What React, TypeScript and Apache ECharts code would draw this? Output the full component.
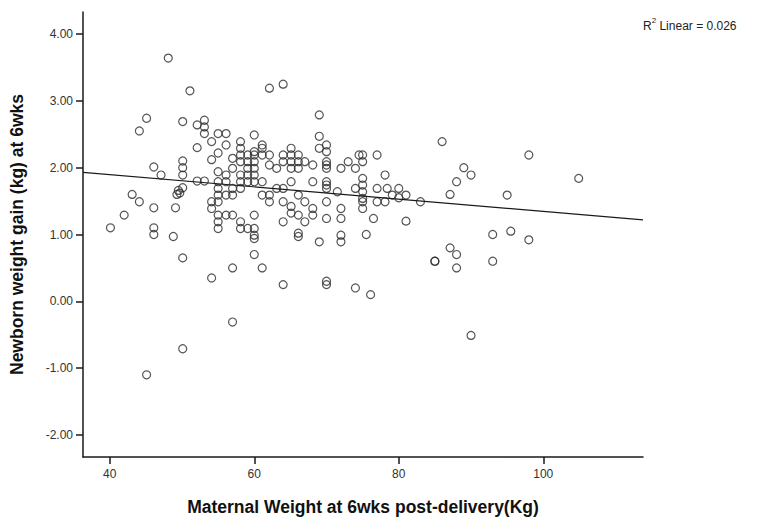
import React, { useEffect, useRef } from "react";
import * as echarts from "echarts";

// Maternal weight (kg) of each column of points, and the newborn gains (kg) found at that weight
const columnWeights = [
  40.1, 42.0, 43.1, 44.1, 45.1, 46.1, 47.1, 48.1, 48.8, 49.1, 49.3, 49.5, 49.7, 50.1,
  51.1, 52.1, 53.1, 54.1, 55.0, 56.1, 57.0, 58.1, 59.1, 60.0, 61.1, 62.1, 63.1, 64.0,
  65.1, 66.1, 67.0, 68.1, 69.0, 70.0, 71.5, 72.0, 73.0, 74.0, 74.5, 75.0, 75.5, 76.1,
  76.5, 77.0, 78.1, 78.4, 79.1, 80.0, 81.0, 83.0, 85.0, 86.0, 87.1, 88.0, 89.0, 90.0,
  93.0, 95.0, 95.5, 98.0, 104.9,
];
const columnGains = [
  [1.10], [1.29], [1.60], [2.55, 1.49], [2.74, -1.10], [2.01, 1.40, 1.10, 1.00], [1.89],
  [3.64], [0.97], [1.40], [1.60], [1.66], [1.62],
  [2.69, 2.10, 2.00, 1.89, 1.70, 0.65, -0.71],
  [3.15],
  [2.64, 2.30, 1.80],
  [2.71, 2.61, 2.51, 1.80],
  [2.39, 2.12, 1.49, 1.39, 0.35],
  [2.51, 2.22, 1.94, 1.79, 1.69, 1.59, 1.49, 1.29, 1.19, 1.09],
  [2.51, 2.34, 1.89, 1.79, 1.59, 1.29],
  [2.14, 1.99, 1.69, 1.59, 1.29, 0.50, -0.31],
  [2.39, 2.29, 2.19, 2.09, 1.89, 1.79, 1.69, 1.19, 1.09],
  [2.19, 2.09, 1.99, 1.89, 1.79, 1.09],
  [2.49, 2.24, 2.19, 2.09, 1.99, 1.89, 1.79, 1.29, 1.09, 0.99, 0.94, 0.70],
  [2.34, 2.29, 2.19, 1.79, 1.59, 0.50],
  [3.19, 2.19, 2.04, 1.59, 1.49],
  [1.99, 1.69],
  [3.25, 2.19, 2.09, 1.69, 1.49, 1.19, 0.25],
  [2.29, 2.19, 2.09, 1.99, 1.79, 1.42, 1.32],
  [2.19, 2.09, 1.99, 1.59, 1.29, 1.02, 0.97],
  [2.09, 1.49, 1.19],
  [2.04, 1.79, 1.39, 1.29],
  [2.79, 2.47, 2.29, 0.89],
  [2.34, 2.24, 2.09, 2.04, 1.99, 1.79, 1.74, 1.69, 1.49, 1.24, 0.30, 0.25],
  [1.64],
  [1.99, 1.39, 1.24, 0.99, 0.89],
  [2.09],
  [1.99, 1.69, 0.20],
  [2.19],
  [2.19, 2.09, 1.84, 1.74, 1.64, 1.54, 1.49, 1.39],
  [1.00],
  [0.10],
  [1.24],
  [2.19, 1.69, 1.49],
  [1.89, 1.49],
  [1.69],
  [1.59],
  [1.69, 1.55],
  [1.59, 1.20],
  [1.49],
  [0.60, 0.60],
  [2.39],
  [1.60, 0.80],
  [1.79, 0.70, 0.50],
  [2.00],
  [1.89, -0.51],
  [1.00, 0.60],
  [1.59],
  [1.05],
  [2.19, 0.92],
  [1.84],
];

// Linear fit line (endpoints at the edges of the axis range)
const fitWeights = [36.3, 113.8];
const fitGains = [1.93, 1.22];

const xTicks = [40, 60, 80, 100];
const yTicks = [-2, -1, 0, 1, 2, 3, 4];
const xRange = [36.3, 113.8];
const yRange = [-2.33, 4.33];

const xTitle = "Maternal Weight at 6wks post-delivery(Kg)";
const yTitle = "Newborn weight gain (kg) at 6wks";
const fitNote = "0.026";

export default function App() {
  const ref = useRef<HTMLDivElement>(null);

  useEffect(() => {
    if (!ref.current) return;
    const chart = echarts.init(ref.current, null, { renderer: "svg" });
    const points: number[][] = [];
    columnWeights.forEach((w, i) => {
      columnGains[i].forEach((g) => points.push([w, g]));
    });
    const fit = fitWeights.map((w, i) => [w, fitGains[i]]);
    const axisColor = "#1a1a1a";
    const labelFont = "'Liberation Sans', Arial, sans-serif";
    const titleFont = "'Liberation Sans', Arial, sans-serif";

    chart.setOption({
      animation: false,
      backgroundColor: "#ffffff",
      grid: { left: 82, right: 115, top: 12, bottom: 72 },
      xAxis: {
        type: "value",
        min: xRange[0],
        max: xRange[1],
        axisLine: { show: true, onZero: false, lineStyle: { color: axisColor, width: 1.5 } },
        axisTick: { show: true, length: 7, customValues: xTicks, lineStyle: { color: axisColor, width: 1.5 } },
        axisLabel: {
          customValues: xTicks,
          color: "#333",
          fontSize: 12,
          fontFamily: labelFont,
          margin: 11,
          formatter: (v: number) => String(Math.round(v)),
        },
        splitLine: { show: false },
        name: xTitle,
        nameLocation: "middle",
        nameGap: 41,
        nameTextStyle: { color: "#111", fontSize: 17.5, fontWeight: "bold", fontFamily: titleFont },
      },
      yAxis: {
        type: "value",
        min: yRange[0],
        max: yRange[1],
        axisLine: { show: true, onZero: false, lineStyle: { color: axisColor, width: 1.5 } },
        axisTick: { show: true, length: 7, customValues: yTicks, lineStyle: { color: axisColor, width: 1.5 } },
        axisLabel: {
          customValues: yTicks,
          color: "#333",
          fontSize: 12,
          fontFamily: labelFont,
          margin: 10,
          formatter: (v: number) => v.toFixed(2),
        },
        splitLine: { show: false },
        name: yTitle,
        nameLocation: "middle",
        nameGap: 57,
        nameTextStyle: { color: "#111", fontSize: 17.5, fontWeight: "bold", fontFamily: titleFont },
      },
      graphic: [
        {
          type: "text",
          left: 643,
          top: 16,
          style: {
            text: "{r|R}{sup|2}{r| Linear = " + fitNote + "}",
            fill: "#222",
            fontSize: 12,
            fontFamily: labelFont,
            rich: {
              r: { fontSize: 12, lineHeight: 16, fontFamily: labelFont, fill: "#222", verticalAlign: "bottom" },
              sup: { fontSize: 8, lineHeight: 9, fontFamily: labelFont, fill: "#222", verticalAlign: "top" },
            },
          },
        },
      ],
      series: [
        {
          type: "scatter",
          data: points,
          symbol: "circle",
          symbolSize: 8,
          itemStyle: { color: "rgba(0,0,0,0)", borderColor: "#2a2a2a", borderWidth: 1.2 },
          z: 2,
        },
        {
          type: "line",
          data: fit,
          symbol: "none",
          lineStyle: { color: "#1a1a1a", width: 1.2 },
          z: 3,
        },
      ],
    });
    return () => chart.dispose();
  }, []);

  return <div ref={ref} style={{ position: "fixed", left: 0, top: 0, width: 758, height: 529 }} />;
}
